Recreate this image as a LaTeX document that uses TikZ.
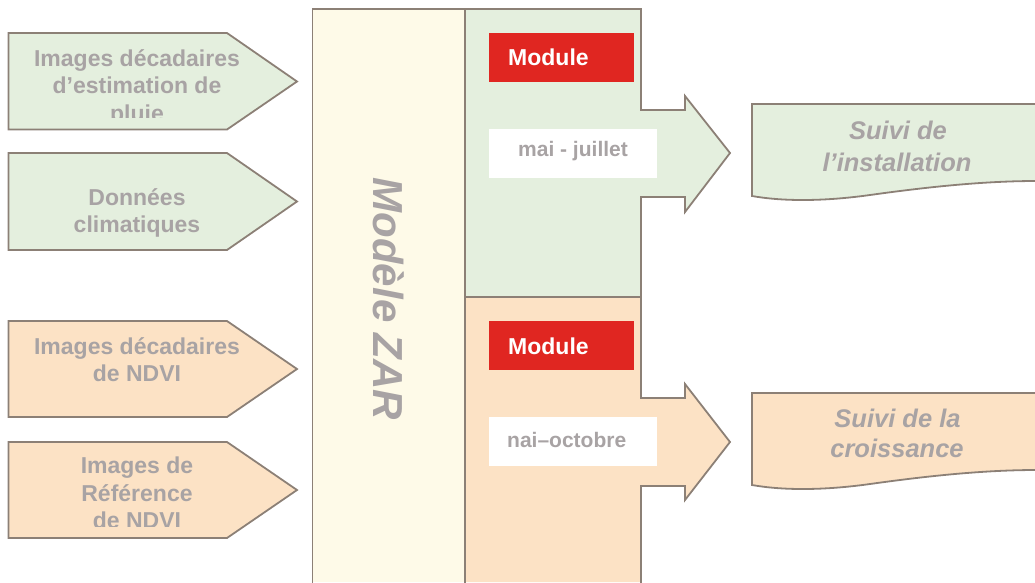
\documentclass[tikz,border=0pt]{standalone}
\usepackage{fontspec}
\setmainfont{Liberation Sans}
\definecolor{edge}{RGB}{140,128,118}
\definecolor{txtgray}{RGB}{168,163,164}
\definecolor{greenfill}{RGB}{228,239,222}
\definecolor{orangefill}{RGB}{252,226,197}
\definecolor{creamfill}{RGB}{254,250,232}
\definecolor{modred}{RGB}{224,38,33}
\tikzset{
  shapeline/.style={draw=edge, line width=1.8pt, line join=miter},
  inlbl/.style={font=\bfseries\fontsize{23}{27}\selectfont, text=txtgray, inner sep=0pt, anchor=base},
  outlbl/.style={font=\bfseries\itshape\fontsize{25.5}{30}\selectfont, text=txtgray, inner sep=0pt, anchor=base},
  modlbl/.style={font=\bfseries\fontsize{23}{27}\selectfont, text=white, inner sep=0pt, anchor=base west},
  datelbl/.style={font=\bfseries\fontsize{21}{25}\selectfont, text=txtgray, inner sep=0pt},
}
\begin{document}
\begin{tikzpicture}[x=1pt,y=-1pt]
\useasboundingbox (0,0) rectangle (1035,582);

% ---------- input pentagons ----------
\draw[shapeline, fill=greenfill] (8.5,33) -- (227,33) -- (297,81.5) -- (227,129.5) -- (8.5,129.5) -- cycle;
\draw[shapeline, fill=greenfill] (8.5,153) -- (227,153) -- (297,201.5) -- (227,250) -- (8.5,250) -- cycle;
\draw[shapeline, fill=orangefill] (8.5,321) -- (227,321) -- (297,369) -- (227,417) -- (8.5,417) -- cycle;
\draw[shapeline, fill=orangefill] (8.5,442) -- (227,442) -- (297,490) -- (227,538) -- (8.5,538) -- cycle;

\begin{scope}
  \clip (0,0) rectangle (300,117.5);
  \node[inlbl] (in1a) at (137,66) {Images décadaires};
  \node[inlbl] (in1b) at (137,93.5) {d’estimation de};
  \node[inlbl] (in1c) at (137,121) {pluie};
\end{scope}
\node[inlbl] (in2a) at (137,205) {Données};
\node[inlbl] (in2b) at (137,232.5) {climatiques};
\node[inlbl] (in3a) at (137,354) {Images décadaires};
\node[inlbl] (in3b) at (137,381) {de NDVI};
\node[inlbl] (in4a) at (137,473.5) {Images de};
\node[inlbl] (in4b) at (137,501) {Référence};
\begin{scope}
  \clip (0,440) rectangle (300,526.7);
  \node[inlbl] (in4c) at (137,528.5) {de NDVI};
\end{scope}

% ---------- Modele ZAR column ----------
\fill[creamfill] (312.5,9) rectangle (465,582);
\draw[shapeline] (312.5,583) -- (312.5,9) -- (465,9) -- (465,583);
\node[font=\bfseries\itshape\fontsize{42}{48}\selectfont, text=txtgray, rotate=-90, inner sep=0pt] (zar) at (389,299) {Modèle ZAR};

% ---------- module 1 (green) ----------
\draw[shapeline, fill=greenfill] (465,9) -- (641,9) -- (641,110) -- (685,110) -- (685,96) -- (730,153) -- (685,212) -- (685,197) -- (641,197) -- (641,297) -- (465,297) -- cycle;
\fill[modred] (489,33) rectangle (634,82);
\node[modlbl] (mod1) at (508,65) {Module};
\fill[white] (489,129) rectangle (657,178);
\node[datelbl, anchor=base] (date1) at (573,156) {mai - juillet};

% ---------- module 2 (orange) ----------
\fill[orangefill] (465,297) -- (641,297) -- (641,398) -- (685,398) -- (685,384) -- (730,442) -- (685,500) -- (685,486) -- (641,486) -- (641,582) -- (465,582) -- cycle;
\draw[shapeline] (465,583) -- (465,297) -- (641,297) -- (641,398) -- (685,398) -- (685,384) -- (730,442) -- (685,500) -- (685,486) -- (641,486) -- (641,583);
\fill[modred] (489,321) rectangle (634,370);
\node[modlbl] (mod2) at (508,354) {Module};
\fill[white] (489,417) rectangle (657,466);
\node[datelbl, anchor=base west] (date2) at (507,447) {nai–octobre};

% ---------- output documents ----------
\fill[greenfill] (752,104) -- (1035,104) -- (1035,181) .. controls (980,181) and (920,188) .. (870,195) .. controls (820,202) and (780,201) .. (752,196) -- cycle;
\draw[shapeline] (1036,104) -- (752,104) -- (752,196) .. controls (780,201) and (820,202) .. (870,195) .. controls (920,188) and (980,181) .. (1036,181);
\node[outlbl] (out1a) at (898,139) {Suivi de};
\node[outlbl] (out1b) at (897,171) {l’installation};

\fill[orangefill] (752,393) -- (1035,393) -- (1035,470) .. controls (980,470) and (920,477) .. (870,484) .. controls (820,491) and (780,490) .. (752,485) -- cycle;
\draw[shapeline] (1036,393) -- (752,393) -- (752,485) .. controls (780,490) and (820,491) .. (870,484) .. controls (920,477) and (980,470) .. (1036,470);
\node[outlbl] (out2a) at (897.5,427) {Suivi de la};
\node[outlbl] (out2b) at (897,457) {croissance};
\end{tikzpicture}
\end{document}
